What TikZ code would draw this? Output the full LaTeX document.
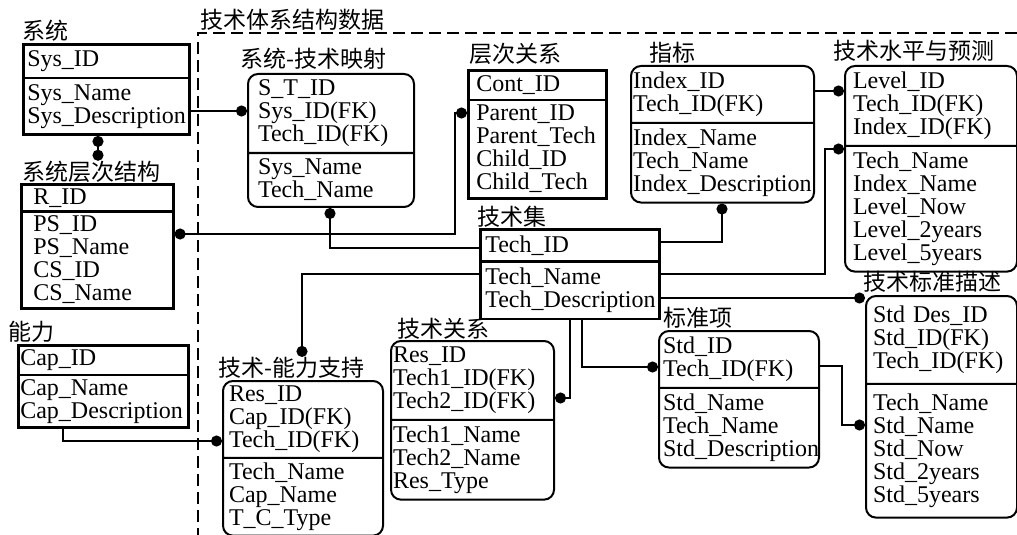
\documentclass[tikz,border=0pt]{standalone}
\usepackage{fontspec}
\setmainfont{Liberation Serif}
\newfontfamily\cjk{Noto Sans CJK SC}
\usepackage{tikz}
\usetikzlibrary{positioning}
\usetikzlibrary{shapes.multipart}
\usetikzlibrary{arrows.meta}

\tikzset{
	tablebox/.style={draw, line width=1pt, rectangle split, rectangle split parts=2, align=left, anchor=north west, inner ysep=2.5pt, font=\fontsize{12}{11.5}\selectfont},
	entity/.style={tablebox, line width=1.3pt},
	weak/.style={tablebox, rounded corners=5pt},
	tname/.style={inner sep=0pt, font=\cjk\fontsize{11.5}{11.5}\selectfont},
	link/.style={line width=1pt, -{Circle[length=5.5pt]}},
	dlink/.style={line width=1pt, {Circle[length=5.5pt]}-{Circle[length=5.5pt]}},
}

\begin{document}
\begin{tikzpicture}[x=0.5pt, y=-0.5pt]
					\useasboundingbox (0,0) rectangle (1017,535);

					% Tables
					\node[entity, inner xsep=2pt, text width=79pt] (sys) at (22,43) {Sys\_ID \nodepart{two} Sys\_Name\\Sys\_Description};
					\node[entity, inner xsep=6pt, inner ysep=1.5pt, text width=64pt] (sysTree) at (20,183) {R\_ID \nodepart{two} PS\_ID\\PS\_Name\\CS\_ID\\CS\_Name};
					\node[entity, inner xsep=1pt, inner ysep=1.5pt, text width=83pt] (cap) at (17,344) {Cap\_ID \nodepart{two} Cap\_Name\\Cap\_Description};
					\node[weak, inner xsep=5pt, text width=73pt] (sysTech) at (247,73) {S\_T\_ID\\Sys\_ID(FK)\\Tech\_ID(FK) \nodepart{two} Sys\_Name\\Tech\_Name};
					\node[entity, inner xsep=4pt, inner ysep=2pt, text width=61pt] (cont) at (467,69) {Cont\_ID \nodepart{two} Parent\_ID\\Parent\_Tech\\Child\_ID\\Child\_Tech};
					\node[weak, inner xsep=1pt, text width=89.5pt] (index) at (630,65) {Index\_ID\\Tech\_ID(FK) \nodepart{two} Index\_Name\\Tech\_Name\\Index\_Description};
					\node[weak, inner xsep=4pt, text width=78pt] (level) at (844,65) {Level\_ID\\Tech\_ID(FK)\\Index\_ID(FK) \nodepart{two} Tech\_Name\\Index\_Name\\Level\_Now\\Level\_2years\\Level\_5years};
					\node[entity, inner xsep=2.5pt, text width=84.5pt] (tech) at (479,228) {Tech\_ID \nodepart{two} Tech\_Name\\Tech\_Description};
					\node[weak, inner xsep=3.5pt, inner ysep=4.5pt, text width=68.5pt] (stdDes) at (865,295) {Std Des\_ID\\Std\_ID(FK)\\Tech\_ID(FK) \nodepart{two} Tech\_Name\\Std\_Name\\Std\_Now\\Std\_2years\\Std\_5years};
					\node[weak, inner xsep=2pt, text width=76pt] (std) at (658,330) {Std\_ID\\Tech\_ID(FK) \nodepart{two} Std\_Name\\Tech\_Name\\Std\_Description};
					\node[weak, inner xsep=1pt, text width=79.5pt] (techRel) at (390,340) {Res\_ID\\Tech1\_ID(FK)\\Tech2\_ID(FK) \nodepart{two} Tech1\_Name\\Tech2\_Name\\Res\_Type};
					\node[weak, inner xsep=3pt, inner ysep=2pt, text width=74pt] (techCap) at (222,380) {Res\_ID\\Cap\_ID(FK)\\Tech\_ID(FK) \nodepart{two} Tech\_Name\\Cap\_Name\\T\_C\_Type};

					% Table names
					\node[tname, above right=0.5pt and 0pt of sys.north west] (sysL) {系统};
					\node[tname, above right=0pt and 1pt of sysTree.north west] (sysTreeL) {系统层次结构};
					\node[tname, above right=0.5pt and -4.5pt of cap.north west] (capL) {能力};
					\node[tname, above right=1.5pt and -3.5pt of sysTech.north west] (sysTechL) {系统-技术映射};
					\node[tname, above right=2pt and 1pt of cont.north west] (contL) {层次关系};
					\node[tname, above right=0.5pt and 9.5pt of index.north west] (indexL) {指标};
					\node[tname, above right=1.5pt and -5.5pt of level.north west] (levelL) {技术水平与预测};
					\node[tname, above right=0pt and -1pt of tech.north west] (techL) {技术集};
					\node[tname, above right=1pt and -1pt of stdDes.north west] (stdDesL) {技术标准描述};
					\node[tname, above right=0.5pt and 2.5pt of std.north west] (stdL) {标准项};
					\node[tname, above right=0pt and 3.5pt of techRel.north west] (techRelL) {技术关系};
					\node[tname, above right=0.5pt and -2pt of techCap.north west] (techCapL) {技术-能力支持};

					% Frame of the technology data
					\coordinate (frame) at (198,33);
					\draw[line width=1pt, dash pattern=on 6pt off 3pt] (frame -| 1017,0) -- (frame) -- (frame |- 0,535);
					\node[tname, above right=1pt and 1pt of frame] (title) {技术体系结构数据};

					% Connect the tables
					\draw[link] (sys.east |- 0,111) -- (sysTech.west |- 0,111);
					\draw[dlink] (sys.south -| 98,0) -- (sysTreeL.north -| 98,0);
					\draw[dlink] (sysTree.east |- 0,234) -| (455,113) -- (cont.west |- 0,113);
					\draw[link] (tech.west |- 0,248) -| (sysTech.south -| 330,0);
					\draw[link] (tech.west) -| (techCapL.north -| 302,0);
					\draw[link] (index.east |- 0,91) -- (level.west |- 0,91);
					\draw[link] (tech.east |- 0,242) -| (index.south -| 722,0);
					\draw[link] (tech.east) -| (825,149) -- (level.west |- 0,149);
					\draw[link] (tech.east |- 0,298) -- (stdDes.west |- 0,298);
					\draw[link] (tech.south -| 570,0) |- (techRel.east |- 0,398);
					\draw[link] (tech.south -| 582,0) |- (std.west |- 0,367);
					\draw[link] (std.east |- 0,366) -| (842,425) -- (stdDes.west |- 0,425);
					\draw[link] (cap.south -| 63,0) |- (techCap.west |- 0,441);
\end{tikzpicture}
\end{document}
